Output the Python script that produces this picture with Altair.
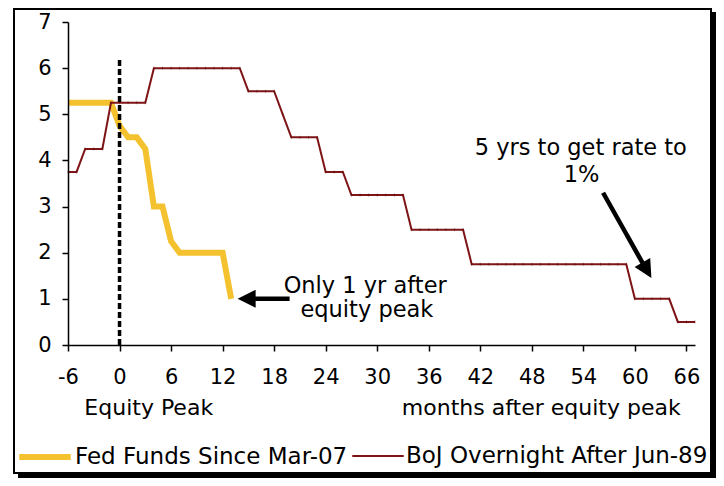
import altair as alt
import pandas as pd

# ---------------- data ----------------
months = list(range(-6, 68))
boj_rate = (
    [3.75, 3.75, 4.25, 4.25, 4.25, 5.25, 5.25, 5.25, 5.25, 5.25]   # -6..3
    + [6.0] * 11                                                    # 4..14
    + [5.5] * 4                                                     # 15..18
    + [5.0]                                                         # 19
    + [4.5] * 4                                                     # 20..23
    + [3.75] * 3                                                    # 24..26
    + [3.25] * 7                                                    # 27..33
    + [2.5] * 7                                                     # 34..40
    + [1.75] * 19                                                   # 41..59
    + [1.0] * 5                                                     # 60..64
    + [0.5] * 3                                                     # 65..67
)
fed_months = list(range(-6, 14))
fed_rate = [5.25] * 6 + [4.75, 4.5, 4.5, 4.25, 3.0, 3.0, 2.25] + [2.0] * 6 + [1.0]

series_names = ["Fed Funds Since Mar-07", "BoJ Overnight After Jun-89"]
series_colors = ["#F4C22F", "#7E1416"]
series_widths = [6, 2]

x_ticks = list(range(-6, 67, 6))
y_ticks = list(range(0, 8))

# annotations (data coordinates)
ann_text = ["Only 1 yr after", "equity peak", "5 yrs to get rate to", "1%",
            "Equity Peak", "months after equity peak"]
ann_x = [28.6, 28.8, 53.7, 53.8, 3.4, 49.1]
ann_y = [1.13, 0.61, 4.12, 3.54, -1.52, -1.52]
ann_size = [22.5, 22.5, 22.5, 22.5, 22, 22]

arrow_x = [19.8, 56.3]
arrow_x2 = [15.2, 61.1]
arrow_y = [1.0, 3.30]
arrow_y2 = [1.0, 1.71]
head_x = [14.8, 61.4]
head_y = [1.0, 1.62]
head_angle = [270, 150]

peak_x = [0]
peak_top = [6.2]

FONT = "DejaVu Sans"

# ---------------- tables ----------------
fed_df = pd.DataFrame({"month": fed_months, "rate": fed_rate, "series": series_names[0]})
boj_df = pd.DataFrame({"month": months, "rate": boj_rate, "series": series_names[1]})
lines_df = pd.concat([fed_df, boj_df])
ann_df = pd.DataFrame({"text": ann_text, "x": ann_x, "y": ann_y, "size": ann_size})
arrow_df = pd.DataFrame({"x": arrow_x, "x2": arrow_x2, "y": arrow_y, "y2": arrow_y2})
head_df = pd.DataFrame({"x": head_x, "y": head_y, "angle": head_angle})
peak_df = pd.DataFrame({"x": peak_x, "y": [0], "y2": peak_top})
one = pd.DataFrame({"a": [0]})

xscale = alt.Scale(domain=[-6, 67], nice=False, zero=False)
yscale = alt.Scale(domain=[0, 7], nice=False)

# ---------------- frame ----------------
shadow = alt.Chart(one).mark_rect(color="black").encode(
    x=alt.value(-50), x2=alt.value(648), y=alt.value(-10), y2=alt.value(456))
frame = alt.Chart(one).mark_rect(fill="white", stroke="black", strokeWidth=2).encode(
    x=alt.value(-54), x2=alt.value(643), y=alt.value(-13), y2=alt.value(451))

# ---------------- lines ----------------
lines = alt.Chart(lines_df).mark_line(strokeJoin="miter", strokeCap="butt").encode(
    x=alt.X("month:Q", scale=xscale,
            axis=alt.Axis(values=x_ticks, title=None, grid=False, domainColor="black",
                          domainWidth=1.5, tickColor="black", tickWidth=1.5, tickSize=6,
                          labelFontSize=21, labelFont=FONT, labelColor="black",
                          labelPadding=15, labelFlush=False,
                          labelExpr="'' + datum.value", zindex=1)),
    y=alt.Y("rate:Q", scale=yscale,
            axis=alt.Axis(values=y_ticks, title=None, grid=False, domainColor="black",
                          domainWidth=1.5, tickColor="black", tickWidth=1.5, tickSize=6,
                          labelFontSize=21, labelFont=FONT, labelColor="black",
                          labelPadding=11, labelFlush=False, zindex=1)),
    color=alt.Color("series:N", scale=alt.Scale(domain=series_names, range=series_colors),
                    legend=alt.Legend(title=None, orient="none", direction="horizontal",
                                      legendX=-52, legendY=406, symbolType="stroke",
                                      symbolSize=2650, labelFontSize=23, labelFont=FONT,
                                      labelColor="black", labelLimit=500, labelOffset=1,
                                      columnPadding=0, padding=0, symbolStrokeWidth=4)),
    strokeWidth=alt.StrokeWidth("series:N",
                                scale=alt.Scale(domain=series_names, range=series_widths),
                                legend=None),
    order="month:Q",
)

boj_marks = alt.Chart(boj_df).mark_point(
    shape="stroke", angle=90, color="#5A0A0C", size=9, strokeWidth=1, opacity=0.45).encode(
    x=alt.X("month:Q", scale=xscale), y=alt.Y("rate:Q", scale=yscale))

peak = alt.Chart(peak_df).mark_rule(color="black", strokeWidth=3.5, strokeDash=[6, 3]).encode(
    x=alt.X("x:Q", scale=xscale), y=alt.Y("y:Q", scale=yscale), y2="y2:Q")

arrows = alt.Chart(arrow_df).mark_rule(color="black", strokeWidth=4.5).encode(
    x=alt.X("x:Q", scale=xscale), x2="x2:Q",
    y=alt.Y("y:Q", scale=yscale), y2="y2:Q")

heads = alt.Chart(head_df).mark_point(
    shape="M0,-1L1,1L-1,1Z", filled=True, color="black", size=324, opacity=1).encode(
    x=alt.X("x:Q", scale=xscale), y=alt.Y("y:Q", scale=yscale),
    angle=alt.Angle("angle:Q", scale=None))

ann = alt.Chart(ann_df).mark_text(font=FONT, color="black",
                                  align="center", baseline="alphabetic").encode(
    x=alt.X("x:Q", scale=xscale), y=alt.Y("y:Q", scale=yscale), text="text:N",
    size=alt.Size("size:Q", scale=None))

chart = alt.layer(shadow, frame, lines, boj_marks, peak, arrows, heads, ann).properties(
    width=627, height=323,
    padding={"left": 60, "top": 14, "right": 21, "bottom": 133},
    autosize=alt.AutoSizeParams(type="none"),
    background="white",
).configure_view(stroke=None)

chart.save("out.html", embed_options={"renderer": "svg", "actions": False})
